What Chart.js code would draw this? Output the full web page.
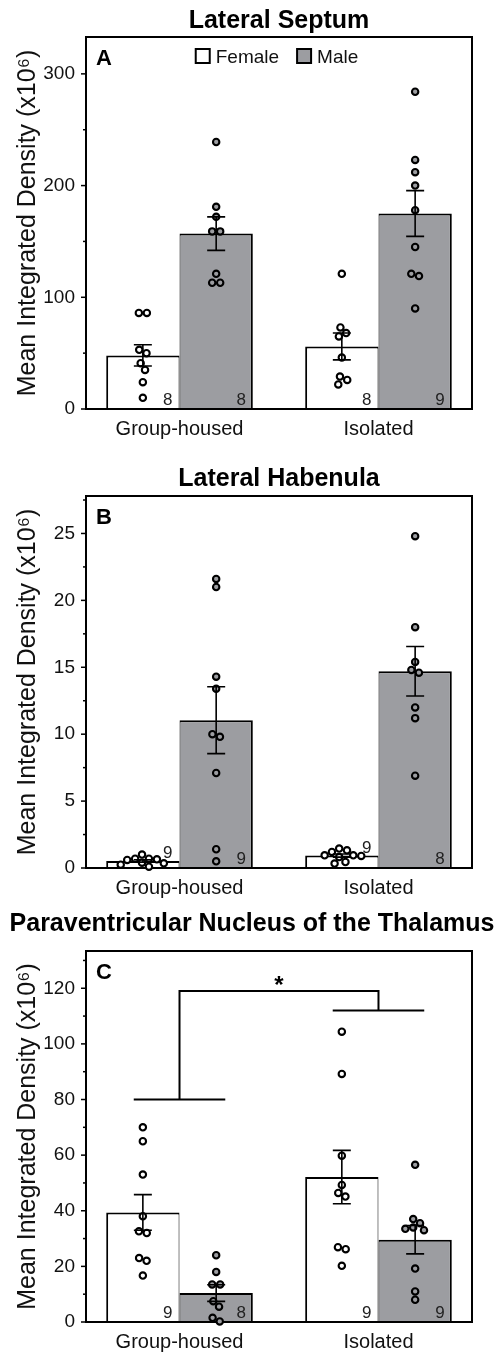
<!DOCTYPE html>
<html>
<head>
<meta charset="utf-8">
<script src="https://cdn.jsdelivr.net/npm/chart.js@4.4.1/dist/chart.umd.min.js"></script>
<style>
  html, body { margin: 0; padding: 0; background: #fff; }
  #wrap { width: 504px; }
  canvas { display: block; }
</style>
</head>
<body>
<div id="wrap">
  <canvas id="panel-a" width="504" height="445"></canvas>
  <canvas id="panel-b" width="504" height="455"></canvas>
  <canvas id="panel-c" width="504" height="455"></canvas>
</div>
<script>
"use strict";

var groups = ["Group-housed", "Isolated"];
var sexes = ["Female", "Male"];

// Lateral Septum (x10^6)
var lsFemaleMean = [48, 56];
var lsMaleMean = [157, 175];
var lsFemaleSem = [9.5, 12];
var lsMaleSem = [15, 20.5];
var lsFemalePts = [[86, 86, 53, 50, 41, 35, 24, 10], [121, 73, 68, 65, 46, 29, 26, 22]];
var lsMalePts = [[239, 181, 172, 159, 159, 121, 113, 113], [284, 223, 212, 200, 178, 145, 121, 119, 90]];

// Lateral Habenula
var lhFemaleMean = [0.53, 0.93];
var lhMaleMean = [11.05, 14.7];
var lhFemaleSem = [0.09, 0.12];
var lhMaleSem = [2.5, 1.85];
var lhFemalePts = [[1.0, 0.7, 0.7, 0.65, 0.6, 0.4, 0.35, 0.25, 0.1], [1.45, 1.32, 1.2, 0.95, 0.95, 0.9, 0.82, 0.45, 0.33]];
var lhMalePts = [[21.6, 21.0, 14.3, 13.4, 10.0, 9.8, 7.1, 1.4, 0.5], [24.8, 18.0, 15.4, 14.8, 14.6, 12.0, 11.2, 6.9]];

// Paraventricular Nucleus of the Thalamus
var pvtFemaleMean = [39.4, 52.1];
var pvtMaleMean = [10.4, 29.6];
var pvtFemaleSem = [6.4, 9.6];
var pvtMaleSem = [3, 5.1];
var pvtFemalePts = [[70, 65, 53, 38, 32.6, 32, 23, 22, 16.7], [104.4, 89.2, 59.8, 49.3, 46.4, 45.1, 26.9, 26.2, 20.2]];
var pvtMalePts = [[24, 18, 13.5, 13.5, 7.5, 5.5, 1.5, 0.2], [56.5, 37, 35.5, 34, 33.5, 33, 19.2, 11, 8]];
// housing effect bracket: arm heights per group, then top bar
var pvtSigArms = [80, 112];
var pvtSigTop = 119;
var pvtSigLabel = "*";

var MALE_GRAY = "#9c9da1";
var FONT = "'Liberation Sans', Arial, Helvetica, sans-serif";
var Y_TITLE = "Mean Integrated Density (x10\u2076)";

function capBaseline(yc, size) {
  return yc + 0.358 * size;
}

// simple beeswarm: horizontal offsets (px) so circles don't pile up
function swarmOffsets(ys, d) {
  var order = ys.map(function (y, i) { return i; }).sort(function (a, b) { return ys[a] - ys[b]; });
  var off = ys.map(function () { return 0; });
  var placed = [];
  order.forEach(function (i) {
    var y = ys[i];
    var near = placed.filter(function (p) { return Math.abs(p.y - y) < d; });
    var cands = [0];
    near.forEach(function (p) {
      var w = Math.sqrt(d * d - (p.y - y) * (p.y - y));
      cands.push(p.x - w, p.x + w);
    });
    cands.sort(function (a, b) { return Math.abs(a) - Math.abs(b) || b - a; });
    var x = cands.find(function (c) {
      return near.every(function (p) {
        return (p.x - c) * (p.x - c) + (p.y - y) * (p.y - y) >= d * d - 0.01;
      });
    });
    off[i] = x;
    placed.push({ x: x, y: y });
  });
  // center each run of touching points
  var run = [];
  var flush = function () {
    if (run.length > 1) {
      var m = run.reduce(function (s, i) { return s + off[i]; }, 0) / run.length;
      run.forEach(function (i) { off[i] -= m; });
    }
    run = [];
  };
  order.forEach(function (i, k) {
    if (k > 0 && ys[i] - ys[order[k - 1]] >= d) flush();
    run.push(i);
  });
  flush();
  return off;
}

function isMajor(v, major) {
  var r = v / major;
  return Math.abs(r - Math.round(r)) < 1e-6;
}

function panelPlugin(p) {
  return {
    id: "panelDecor",
    afterDatasetsDraw: function (chart) {
      var ctx = chart.ctx;
      var a = chart.chartArea;
      var xs = chart.scales.x;
      var ys = chart.scales.y;
      ctx.save();

      // frame
      ctx.strokeStyle = "#000";
      ctx.lineWidth = 2;
      ctx.strokeRect(a.left, a.top, a.right - a.left, a.bottom - a.top);

      // y tick marks, minor ones shorter
      ctx.lineWidth = 1.5;
      ys.ticks.forEach(function (t) {
        var y = ys.getPixelForValue(t.value);
        var len = isMajor(t.value, p.major) ? 5 : 3;
        ctx.beginPath();
        ctx.moveTo(a.left - len, y);
        ctx.lineTo(a.left, y);
        ctx.stroke();
      });

      // points, error bars, n labels
      chart.data.datasets.forEach(function (ds, di) {
        var meta = chart.getDatasetMeta(di);
        meta.data.forEach(function (bar, g) {
          var cx = bar.x;
          var vals = p.pts[di][g];
          var py = vals.map(function (v) { return ys.getPixelForValue(v); });
          var off = swarmOffsets(py, 8);
          ctx.lineWidth = 2.1;
          ctx.strokeStyle = "#000";
          ctx.fillStyle = di === 0 ? "#fff" : MALE_GRAY;
          py.forEach(function (y, k) {
            ctx.beginPath();
            ctx.arc(cx + off[k], y, 3.2, 0, Math.PI * 2);
            ctx.fill();
            ctx.stroke();
          });

          var m = p.means[di][g];
          var s = p.sems[di][g];
          var yHi = ys.getPixelForValue(m + s);
          var yLo = ys.getPixelForValue(m - s);
          ctx.lineWidth = 1.6;
          ctx.beginPath();
          ctx.moveTo(cx, yHi);
          ctx.lineTo(cx, yLo);
          ctx.moveTo(cx - 9, yHi);
          ctx.lineTo(cx + 9, yHi);
          ctx.moveTo(cx - 9, yLo);
          ctx.lineTo(cx + 9, yLo);
          ctx.stroke();

          // n label: bottom right of the bar, or just above a short bar
          ctx.fillStyle = "#222";
          ctx.font = "17px " + FONT;
          ctx.textAlign = "right";
          ctx.textBaseline = "alphabetic";
          var base = a.bottom - bar.y > 20 ? a.bottom - 4 : bar.y - 3;
          ctx.fillText(String(vals.length), bar.x + bar.width / 2 - 7, base);
        });
      });

      // panel letter
      ctx.fillStyle = "#000";
      ctx.font = "bold 22px " + FONT;
      ctx.textAlign = "left";
      ctx.fillText(p.letter, a.left + 10, capBaseline(a.top + 20, 22));

      // legend inside the frame
      if (p.legend) {
        ctx.font = "19px " + FONT;
        var fills = ["#fff", MALE_GRAY];
        var widths = sexes.map(function (s) { return ctx.measureText(s).width; });
        var total = widths[0] + widths[1] + 2 * (14 + 6) + 18;
        var lx = (a.left + a.right) / 2 - total / 2 - 2;
        var ly = a.top + 19;
        sexes.forEach(function (s, i) {
          ctx.fillStyle = fills[i];
          ctx.fillRect(lx, ly - 7, 14, 14);
          ctx.lineWidth = 2;
          ctx.strokeStyle = "#000";
          ctx.strokeRect(lx, ly - 7, 14, 14);
          ctx.fillStyle = "#111";
          ctx.fillText(s, lx + 20, capBaseline(ly, 19));
          lx += 20 + widths[i] + 18;
        });
      }

      // significance bracket
      if (p.bracket) {
        var x0 = xs.getPixelForValue(0);
        var x1 = xs.getPixelForValue(1);
        var arm = xs.getPixelForValue(0.23) - x0;
        var yA = ys.getPixelForValue(p.bracket.arms[0]);
        var yB = ys.getPixelForValue(p.bracket.arms[1]);
        var yT = ys.getPixelForValue(p.bracket.top);
        ctx.strokeStyle = "#000";
        ctx.lineWidth = 2;
        ctx.beginPath();
        ctx.moveTo(x0 - arm, yA);
        ctx.lineTo(x0 + arm, yA);
        ctx.moveTo(x1 - arm, yB);
        ctx.lineTo(x1 + arm, yB);
        ctx.moveTo(x0, yA);
        ctx.lineTo(x0, yT);
        ctx.lineTo(x1, yT);
        ctx.lineTo(x1, yB);
        ctx.stroke();
        ctx.fillStyle = "#000";
        ctx.font = "bold 24px " + FONT;
        ctx.textAlign = "center";
        ctx.fillText(p.bracket.label, (x0 + x1) / 2, yT + 2);
      }

      // panel title
      ctx.font = "bold 25px " + FONT;
      ctx.fillStyle = "#000";
      ctx.textAlign = "center";
      var tw = ctx.measureText(p.title).width;
      var tx = tw > a.right - a.left ? chart.width / 2 : (a.left + a.right) / 2;
      ctx.fillText(p.title, tx, capBaseline(p.titleY, 25));

      ctx.restore();
    }
  };
}

function makePanel(id, p) {
  var ctx = document.getElementById(id).getContext("2d");
  var h = ctx.canvas.height;
  var toXY = function (arr) {
    return arr.map(function (v, i) { return { x: i, y: v }; });
  };
  return new Chart(ctx, {
    type: "bar",
    data: {
      datasets: [
        {
          label: sexes[0],
          data: toXY(p.means[0]),
          backgroundColor: "#fff",
          borderColor: "#000",
          borderWidth: { top: 2, left: 2, right: 1, bottom: 0 },
          borderSkipped: false,
          categoryPercentage: 0.737,
          barPercentage: 1,
        },
        {
          label: sexes[1],
          data: toXY(p.means[1]),
          backgroundColor: MALE_GRAY,
          borderColor: "#000",
          borderWidth: { top: 2, left: 1, right: 2, bottom: 0 },
          borderSkipped: false,
          categoryPercentage: 0.737,
          barPercentage: 1,
        },
      ],
    },
    options: {
      responsive: false,
      animation: false,
      devicePixelRatio: 1,
      layout: { padding: { top: p.top, right: 32, bottom: 0, left: 0 } },
      plugins: {
        legend: { display: false },
        tooltip: { enabled: false },
        title: { display: false },
      },
      scales: {
        x: {
          type: "linear",
          min: -0.47,
          max: 1.47,
          offset: false,
          grid: { display: false, drawTicks: false },
          border: { display: false },
          afterBuildTicks: function (s) {
            s.ticks = groups.map(function (g, i) { return { value: i }; });
          },
          afterFit: function (s) {
            s.height = h - p.bottom;
          },
          ticks: {
            callback: function (v) { return groups[v]; },
            font: { family: FONT, size: 20 },
            color: "#111",
            padding: 8,
            maxRotation: 0,
            autoSkip: false,
          },
        },
        y: {
          min: 0,
          max: p.max,
          grid: { display: false, drawTicks: false },
          border: { display: false },
          afterFit: function (s) {
            s.width = 86;
          },
          ticks: {
            stepSize: p.minor,
            includeBounds: false,
            callback: function (v) { return isMajor(v, p.major) ? String(v) : ""; },
            font: { family: FONT, size: 19 },
            color: "#111",
            padding: 11,
          },
          title: {
            display: true,
            text: Y_TITLE,
            font: { family: FONT, size: 25 },
            color: "#111",
            padding: { top: 13, bottom: 0 },
          },
        },
      },
    },
    plugins: [panelPlugin(p)],
  });
}

makePanel("panel-a", {
  title: "Lateral Septum", titleY: 19, top: 37, bottom: 409, letter: "A", legend: true,
  max: 333, major: 100, minor: 50,
  means: [lsFemaleMean, lsMaleMean], sems: [lsFemaleSem, lsMaleSem], pts: [lsFemalePts, lsMalePts],
});

makePanel("panel-b", {
  title: "Lateral Habenula", titleY: 32, top: 51, bottom: 423, letter: "B",
  max: 27.8, major: 5, minor: 2.5,
  means: [lhFemaleMean, lhMaleMean], sems: [lhFemaleSem, lhMaleSem], pts: [lhFemalePts, lhMalePts],
});

makePanel("panel-c", {
  title: "Paraventricular Nucleus of the Thalamus", titleY: 22, top: 51, bottom: 422, letter: "C",
  max: 133.4, major: 20, minor: 10,
  means: [pvtFemaleMean, pvtMaleMean], sems: [pvtFemaleSem, pvtMaleSem], pts: [pvtFemalePts, pvtMalePts],
  bracket: { arms: pvtSigArms, top: pvtSigTop, label: pvtSigLabel },
});
</script>
</body>
</html>
